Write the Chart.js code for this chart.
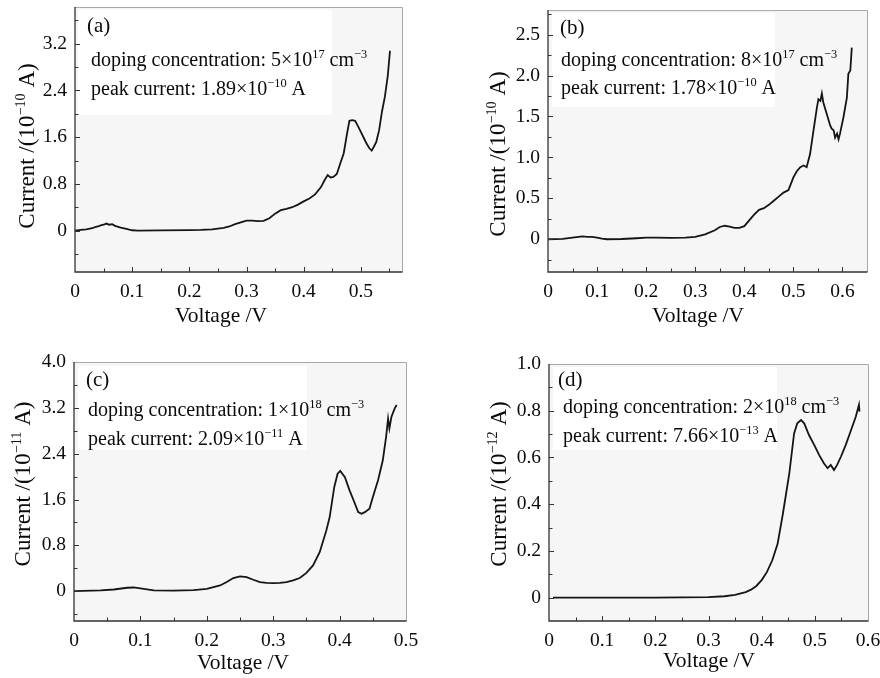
<!DOCTYPE html>
<html>
<head>
<meta charset="utf-8">
<script src="https://cdn.jsdelivr.net/npm/chart.js@4.4.0/dist/chart.umd.min.js"></script>
<style>
body { margin: 0; background: #fff; }
#wrap { position: relative; width: 880px; height: 678px; }
canvas { position: absolute; }
</style>
</head>
<body>
<div id="wrap">
  <canvas id="cA" width="440" height="339" style="left:0;top:0"></canvas>
  <canvas id="cB" width="440" height="339" style="left:440px;top:0"></canvas>
  <canvas id="cC" width="440" height="339" style="left:0;top:339px"></canvas>
  <canvas id="cD" width="440" height="339" style="left:440px;top:339px"></canvas>
</div>
<script>
// (a) 5e17
const voltageA = [0, 0.01, 0.02, 0.03, 0.035, 0.04, 0.045, 0.05, 0.055, 0.06, 0.065, 0.07, 0.08, 0.09, 0.1, 0.11, 0.15, 0.2, 0.22, 0.24, 0.26, 0.27, 0.28, 0.29, 0.3, 0.31, 0.32, 0.33, 0.34, 0.35, 0.36, 0.37, 0.38, 0.39, 0.4, 0.41, 0.42, 0.43, 0.437, 0.442, 0.447, 0.452, 0.458, 0.464, 0.47, 0.476, 0.48, 0.485, 0.49, 0.495, 0.5, 0.505, 0.51, 0.515, 0.519, 0.523, 0.527, 0.532, 0.537, 0.542, 0.547, 0.551];
const currentA = [0, 0.01, 0.02, 0.04, 0.06, 0.07, 0.09, 0.1, 0.12, 0.1, 0.11, 0.08, 0.05, 0.03, 0.005, 0, 0.003, 0.008, 0.01, 0.02, 0.045, 0.07, 0.11, 0.14, 0.17, 0.17, 0.16, 0.165, 0.21, 0.29, 0.35, 0.37, 0.4, 0.445, 0.5, 0.55, 0.62, 0.74, 0.87, 0.95, 0.91, 0.92, 0.97, 1.15, 1.32, 1.67, 1.88, 1.89, 1.88, 1.79, 1.69, 1.59, 1.49, 1.41, 1.37, 1.44, 1.52, 1.72, 2.04, 2.29, 2.64, 3.08];

// (b) 8e17
const voltageB = [0, 0.03, 0.05, 0.07, 0.08, 0.09, 0.1, 0.11, 0.12, 0.15, 0.18, 0.2, 0.22, 0.25, 0.28, 0.3, 0.32, 0.34, 0.35, 0.36, 0.37, 0.38, 0.39, 0.4, 0.41, 0.42, 0.43, 0.44, 0.45, 0.46, 0.47, 0.48, 0.49, 0.5, 0.507, 0.514, 0.521, 0.527, 0.534, 0.541, 0.548, 0.551, 0.555, 0.558, 0.561, 0.568, 0.575, 0.578, 0.582, 0.585, 0.589, 0.592, 0.595, 0.602, 0.609, 0.612, 0.616, 0.619];
const currentB = [0, 0.005, 0.02, 0.035, 0.03, 0.03, 0.02, 0.008, 0, 0.003, 0.012, 0.02, 0.02, 0.016, 0.02, 0.03, 0.06, 0.11, 0.15, 0.165, 0.155, 0.14, 0.14, 0.16, 0.23, 0.3, 0.36, 0.38, 0.42, 0.47, 0.52, 0.57, 0.6, 0.756, 0.83, 0.88, 0.9, 0.88, 1.04, 1.33, 1.61, 1.71, 1.69, 1.78, 1.67, 1.53, 1.39, 1.35, 1.33, 1.24, 1.29, 1.22, 1.29, 1.49, 1.73, 2.02, 2.06, 2.34];

// (c) 1e18
const voltageC = [0, 0.04, 0.06, 0.08, 0.09, 0.1, 0.12, 0.15, 0.18, 0.2, 0.22, 0.23, 0.24, 0.25, 0.26, 0.27, 0.28, 0.29, 0.3, 0.31, 0.32, 0.33, 0.34, 0.35, 0.36, 0.37, 0.38, 0.385, 0.392, 0.397, 0.401, 0.408, 0.415, 0.423, 0.428, 0.433, 0.438, 0.445, 0.45, 0.458, 0.465, 0.47, 0.473, 0.475, 0.478, 0.483, 0.486];
const currentC = [0, 0.015, 0.03, 0.06, 0.065, 0.05, 0.015, 0.01, 0.02, 0.04, 0.1, 0.16, 0.23, 0.26, 0.245, 0.2, 0.16, 0.145, 0.14, 0.145, 0.16, 0.19, 0.23, 0.32, 0.45, 0.68, 1.06, 1.29, 1.82, 2.05, 2.1, 1.99, 1.76, 1.53, 1.38, 1.35, 1.38, 1.44, 1.64, 1.94, 2.28, 2.69, 3.01, 2.84, 3.04, 3.19, 3.25];

// (d) 2e18
const voltageD = [0.0075, 0.1, 0.2, 0.3, 0.33, 0.35, 0.37, 0.38, 0.39, 0.4, 0.41, 0.42, 0.43, 0.44, 0.452, 0.461, 0.467, 0.474, 0.48, 0.489, 0.499, 0.508, 0.517, 0.524, 0.53, 0.536, 0.542, 0.549, 0.558, 0.567, 0.577, 0.583, 0.584];
const currentD = [0, 0, 0, 0.002, 0.006, 0.012, 0.024, 0.034, 0.05, 0.075, 0.11, 0.16, 0.23, 0.36, 0.532, 0.703, 0.746, 0.76, 0.746, 0.696, 0.653, 0.611, 0.575, 0.554, 0.568, 0.546, 0.568, 0.603, 0.653, 0.71, 0.774, 0.825, 0.796];

// tick values and labels
const xTicksA = [0, 0.1, 0.2, 0.3, 0.4, 0.5];
const xLabelsA = ['0', '0.1', '0.2', '0.3', '0.4', '0.5'];
const yTicksA = [0, 0.8, 1.6, 2.4, 3.2];
const yLabelsA = ['0', '0.8', '1.6', '2.4', '3.2'];

const xTicksB = [0, 0.1, 0.2, 0.3, 0.4, 0.5, 0.6];
const xLabelsB = ['0', '0.1', '0.2', '0.3', '0.4', '0.5', '0.6'];
const yTicksB = [0, 0.5, 1.0, 1.5, 2.0, 2.5];
const yLabelsB = ['0', '0.5', '1.0', '1.5', '2.0', '2.5'];

const xTicksC = [0, 0.1, 0.2, 0.3, 0.4, 0.5];
const xLabelsC = ['0', '0.1', '0.2', '0.3', '0.4', '0.5'];
const yTicksC = [0, 0.8, 1.6, 2.4, 3.2, 4.0];
const yLabelsC = ['0', '0.8', '1.6', '2.4', '3.2', '4.0'];

const xTicksD = [0, 0.1, 0.2, 0.3, 0.4, 0.5, 0.6];
const xLabelsD = ['0', '0.1', '0.2', '0.3', '0.4', '0.5', '0.6'];
const yTicksD = [0, 0.2, 0.4, 0.6, 0.8, 1.0];
const yLabelsD = ['0', '0.2', '0.4', '0.6', '0.8', '1.0'];

const FONT = '"Liberation Serif", "Times New Roman", serif';
const W = 440, H = 339;

function richWidth(ctx, parts, size) {
    let w = 0;
    parts.forEach(([t, sup]) => {
        ctx.font = (sup ? size * 0.62 : size) + 'px ' + FONT;
        w += ctx.measureText(t).width;
    });
    return w;
}

function drawRich(ctx, parts, x, y, size, center) {
    let cx = center ? x - richWidth(ctx, parts, size) / 2 : x;
    ctx.textAlign = 'left';
    ctx.textBaseline = 'alphabetic';
    parts.forEach(([t, sup]) => {
        ctx.font = (sup ? size * 0.62 : size) + 'px ' + FONT;
        ctx.fillText(t, cx, sup ? y - size * 0.38 : y);
        cx += ctx.measureText(t).width;
    });
}

function makePanel(p) {
    const decor = {
        id: 'decor',
        beforeDraw(chart) {
            const a = chart.chartArea, ctx = chart.ctx;
            ctx.save();
            ctx.fillStyle = '#f6f6f6';
            ctx.fillRect(a.left, a.top, a.right - a.left, a.bottom - a.top);
            ctx.fillStyle = '#ffffff';
            ctx.fillRect(p.box[0], p.box[1], p.box[2] - p.box[0], p.box[3] - p.box[1]);
            ctx.restore();
        },
        afterDraw(chart) {
            const a = chart.chartArea, ctx = chart.ctx;
            const xs = chart.scales.x, ys = chart.scales.y;
            ctx.save();
            // frame: light top/right, dark left/bottom
            ctx.lineWidth = 1;
            ctx.strokeStyle = '#a8a8a8';
            ctx.beginPath();
            ctx.moveTo(a.left, a.top + 0.5); ctx.lineTo(a.right + 0.5, a.top + 0.5); ctx.lineTo(a.right + 0.5, a.bottom);
            ctx.stroke();
            ctx.strokeStyle = '#333';
            ctx.lineWidth = 1.3;
            ctx.beginPath();
            ctx.moveTo(a.left, a.top); ctx.lineTo(a.left, a.bottom); ctx.lineTo(a.right + 0.5, a.bottom);
            ctx.stroke();
            // inward ticks, major and minor
            ctx.lineWidth = 1;
            ctx.beginPath();
            for (let v = p.xMin, k = 0; v <= p.xMax + 1e-9; k++, v = p.xMin + k * p.xMinor) {
                const px = Math.round(xs.getPixelForValue(v)) + 0.5;
                const len = (k % 2 === 0) ? 5 : 3.5;
                if (px > a.left + 1 && px < a.right - 1) { ctx.moveTo(px, a.bottom); ctx.lineTo(px, a.bottom - len); }
            }
            const y0 = Math.ceil(p.yMin / p.yMinor);
            for (let k = y0; k * p.yMinor <= p.yMax + 1e-9; k++) {
                const py = Math.round(ys.getPixelForValue(k * p.yMinor)) + 0.5;
                const len = (Math.abs(k) % 2 === 0) ? 5 : 3.5;
                if (py > a.top + 1 && py < a.bottom - 1) { ctx.moveTo(a.left, py); ctx.lineTo(a.left + len, py); }
            }
            ctx.stroke();
            // texts
            ctx.fillStyle = '#0a0a0a';
            drawRich(ctx, [[p.tag, false]], p.tagPos[0], p.tagPos[1], 21, false);
            drawRich(ctx, p.line1, p.textX, p.line1Y, 20, false);
            drawRich(ctx, p.line2, p.textX, p.line2Y, 20, false);
            drawRich(ctx, [['Voltage /V', false]], p.xTitle[0], p.xTitle[1], 21.5, true);
            ctx.translate(p.yTitle[0], p.yTitle[1]);
            ctx.rotate(-Math.PI / 2);
            drawRich(ctx, p.yTitleParts, 0, 7.5, 23, true);
            ctx.restore();
        }
    };

    return new Chart(document.getElementById(p.id), {
        type: 'scatter',
        data: {
            datasets: [{
                data: p.volt.map((v, i) => ({ x: v, y: p.cur[i] })),
                showLine: true,
                borderColor: '#151515',
                borderWidth: 1.8,
                pointRadius: 0,
                tension: 0
            }]
        },
        options: {
            responsive: false,
            animation: false,
            layout: { padding: { top: p.area[1], right: W - p.area[2], left: 0, bottom: 0 } },
            plugins: { legend: { display: false }, tooltip: { enabled: false } },
            scales: {
                x: {
                    type: 'linear', min: p.xMin, max: p.xMax,
                    grid: { display: false, drawTicks: false }, border: { display: false },
                    afterBuildTicks: s => { s.ticks = p.xTicks.map(v => ({ value: v })); },
                    afterFit: s => { s.height = H - p.area[3]; s.paddingLeft = 0; s.paddingRight = 0; },
                    ticks: {
                        padding: 8, color: '#0a0a0a', autoSkip: false, maxRotation: 0,
                        font: { family: FONT, size: 19.5 },
                        callback: (v, i) => p.xLabels[i]
                    }
                },
                y: {
                    type: 'linear', min: p.yMin, max: p.yMax,
                    grid: { display: false, drawTicks: false }, border: { display: false },
                    afterBuildTicks: s => { s.ticks = p.yTicks.map(v => ({ value: v })); },
                    afterFit: s => { s.width = p.area[0]; s.paddingTop = 0; s.paddingBottom = 0; },
                    ticks: {
                        padding: 8, color: '#0a0a0a', autoSkip: false,
                        font: { family: FONT, size: 19.5 },
                        callback: (v, i) => p.yLabels[i]
                    }
                }
            }
        },
        plugins: [decor]
    });
}

makePanel({
    id: 'cA', volt: voltageA, cur: currentA,
    xTicks: xTicksA, xLabels: xLabelsA, yTicks: yTicksA, yLabels: yLabelsA,
    xMin: 0, xMax: 0.572, xMinor: 0.05, yMin: -0.71, yMax: 3.83, yMinor: 0.4,
    area: [75, 7, 402, 272], box: [78, 10, 332, 115],
    tag: '(a)', tagPos: [87, 32], textX: 91, line1Y: 66, line2Y: 95,
    line1: [['doping concentration: 5×10', false], ['17', true], [' cm', false], ['−3', true]],
    line2: [['peak current: 1.89×10', false], ['−10', true], [' A', false]],
    xTitle: [221, 322], yTitle: [26, 146],
    yTitleParts: [['Current /(10', false], ['−10', true], [' A)', false]]
});

makePanel({
    id: 'cB', volt: voltageB, cur: currentB,
    xTicks: xTicksB, xLabels: xLabelsB, yTicks: yTicksB, yLabels: yLabelsB,
    xMin: 0, xMax: 0.65, xMinor: 0.05, yMin: -0.4, yMax: 2.8, yMinor: 0.25,
    area: [108, 10, 427, 272], box: [112, 13, 335, 107],
    tag: '(b)', tagPos: [120, 34], textX: 121, line1Y: 66, line2Y: 94,
    line1: [['doping concentration: 8×10', false], ['17', true], [' cm', false], ['−3', true]],
    line2: [['peak current: 1.78×10', false], ['−10', true], [' A', false]],
    xTitle: [258, 322], yTitle: [57, 154],
    yTitleParts: [['Current /(10', false], ['−10', true], [' A)', false]]
});

makePanel({
    id: 'cC', volt: voltageC, cur: currentC,
    xTicks: xTicksC, xLabels: xLabelsC, yTicks: yTicksC, yLabels: yLabelsC,
    xMin: 0, xMax: 0.5, xMinor: 0.05, yMin: -0.52, yMax: 4.0, yMinor: 0.4,
    area: [74, 23, 406, 282], box: [78, 27, 307, 111],
    tag: '(c)', tagPos: [86, 47], textX: 88, line1Y: 77, line2Y: 106,
    line1: [['doping concentration: 1×10', false], ['18', true], [' cm', false], ['−3', true]],
    line2: [['peak current: 2.09×10', false], ['−11', true], [' A', false]],
    xTitle: [243, 330], yTitle: [22, 145],
    yTitleParts: [['Current /(10', false], ['−11', true], [' A)', false]]
});

makePanel({
    id: 'cD', volt: voltageD, cur: currentD,
    xTicks: xTicksD, xLabels: xLabelsD, yTicks: yTicksD, yLabels: yLabelsD,
    xMin: 0, xMax: 0.6, xMinor: 0.05, yMin: -0.1, yMax: 1.0, yMinor: 0.1,
    area: [109, 25, 428, 282], box: [113, 28, 337, 111],
    tag: '(d)', tagPos: [118, 47], textX: 123, line1Y: 74, line2Y: 103,
    line1: [['doping concentration: 2×10', false], ['18', true], [' cm', false], ['−3', true]],
    line2: [['peak current: 7.66×10', false], ['−13', true], [' A', false]],
    xTitle: [269, 328], yTitle: [58, 145],
    yTitleParts: [['Current /(10', false], ['−12', true], [' A)', false]]
});
</script>
</body>
</html>
